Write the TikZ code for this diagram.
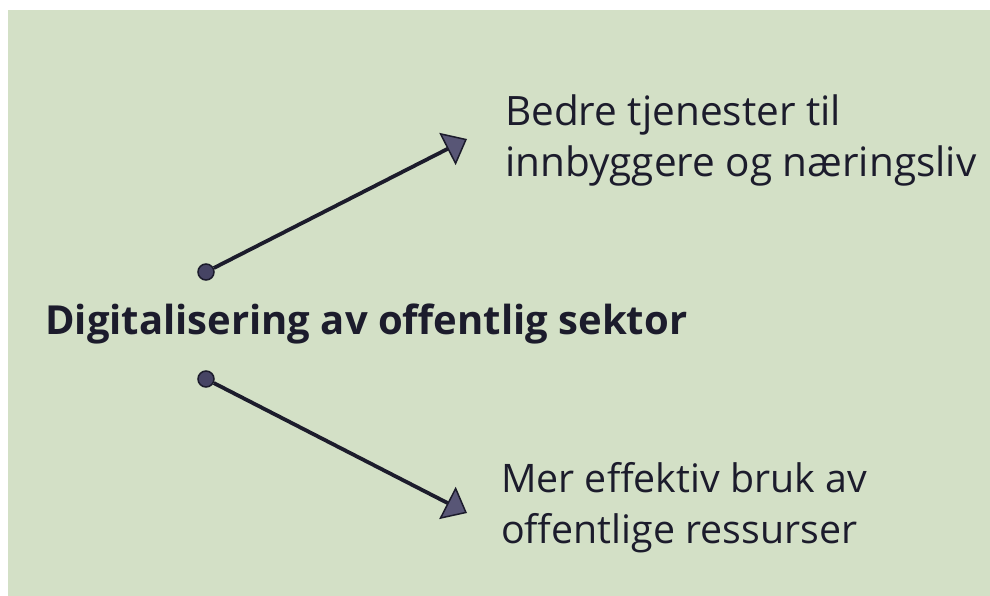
\documentclass[tikz,border=0pt]{standalone}
\usepackage{fontspec}
\setmainfont{Open Sans}
\usetikzlibrary{arrows.meta}
\definecolor{bg}{RGB}{211,224,198}
\definecolor{ink}{RGB}{28,28,44}
\definecolor{headfill}{RGB}{88,86,118}
\definecolor{dotfill}{RGB}{70,68,100}
\begin{document}
\begin{tikzpicture}[x=1pt,y=-1pt,
  conn/.style={draw=ink, line width=3.8pt, -{Triangle[length=22pt,width=36pt,fill=headfill,line width=1.5pt]}},
  dotnode/.style={circle, fill=dotfill, draw=ink, line width=1.5pt, minimum size=16pt, inner sep=0pt},
  titletext/.style={anchor=base west, inner sep=0pt, text=ink, font=\bfseries\fontsize{40}{46}\selectfont},
  sidetext/.style={anchor=west, inner sep=0pt, align=left, text=ink, font=\fontsize{40.5}{51}\selectfont},
  lowtext/.style={sidetext, font=\fontsize{39.3}{51}\selectfont}]
\fill[white] (0,0) rectangle (990,596);
\fill[bg] (8,10) rectangle (990,596);
\useasboundingbox (0,0) rectangle (990,596);
\node[titletext] (t) at (45,334) {Digitalisering av offentlig sektor};
\node[sidetext] (u) at (505,140) {Bedre tjenester til\\innbyggere og næringsliv};
\node[lowtext] (l) at (501,508) {Mer effektiv bruk av\\offentlige ressurser};
\node[dotnode] (d1) at (206,272) {};
\node[dotnode] (d2) at (206,379) {};
\coordinate (tip1) at (467,139);
\coordinate (tip2) at (467,513);
\draw[conn] (d1) -- (tip1);
\draw[conn] (d2) -- (tip2);
\end{tikzpicture}
\end{document}
